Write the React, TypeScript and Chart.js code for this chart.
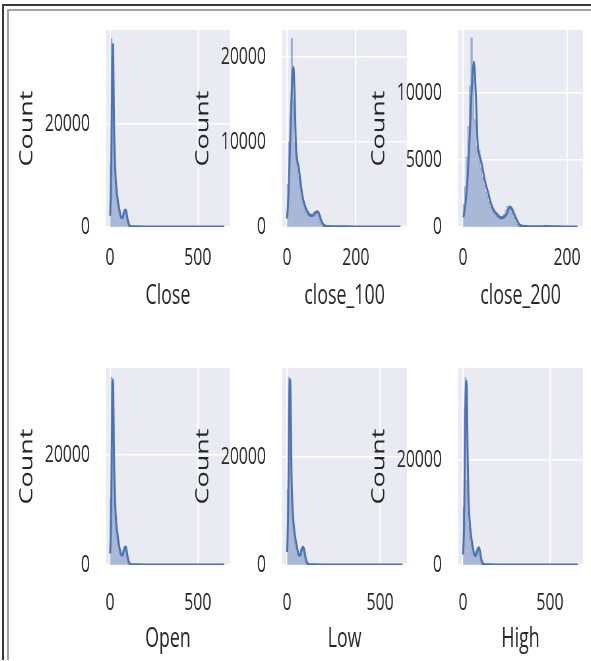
import React, { useEffect, useRef } from "react";
import { Chart, registerables } from "chart.js";

Chart.register(...registerables);

// ---------------- data ----------------
const closeHistX = [0, 6, 12, 18, 24, 30, 36, 42, 48, 54, 60, 66, 72, 78, 84, 90, 96, 102, 108, 114, 130, 200, 300, 450, 650];
const closeHistY = [2500, 12000, 36600, 24000, 14000, 9500, 6800, 5000, 3800, 2700, 2000, 1700, 2000, 2800, 3300, 3000, 1900, 800, 300, 100, 40, 15, 6, 2, 0];
const closeKdeX = [1, 6, 10, 14, 17, 20, 24, 30, 36, 42, 50, 58, 66, 72, 78, 84, 90, 96, 102, 108, 115, 125, 150, 200, 300, 400, 500, 600, 650];
const closeKdeY = [2200, 9000, 22000, 33000, 35500, 29000, 18000, 11000, 7800, 5800, 4000, 2600, 1800, 1800, 2500, 3200, 3300, 2400, 1200, 500, 150, 60, 30, 15, 8, 5, 3, 2, 1];

const c100HistX = [0, 4, 8, 12, 16, 20, 24, 28, 32, 36, 40, 44, 48, 52, 56, 60, 64, 68, 72, 76, 80, 84, 88, 92, 96, 100, 104, 108, 112, 140, 200, 260, 330];
const c100HistY = [2000, 5000, 10000, 13000, 22200, 15000, 10000, 8000, 7200, 6000, 4700, 3500, 2800, 2200, 1800, 1600, 1400, 1300, 1350, 1500, 1700, 1850, 1800, 1400, 900, 450, 200, 100, 50, 25, 12, 4, 0];
const c100KdeX = [0, 4, 8, 12, 16, 19, 22, 26, 30, 34, 40, 46, 52, 58, 64, 70, 76, 82, 88, 92, 96, 100, 106, 112, 120, 140, 170, 200, 250, 300, 330];
const c100KdeY = [1000, 3500, 8500, 14000, 18000, 18800, 15500, 9500, 7800, 7000, 5000, 3400, 2500, 1900, 1500, 1350, 1400, 1650, 1800, 1650, 1200, 700, 250, 100, 50, 30, 20, 12, 6, 3, 1];

const c200HistX = [0, 3, 6, 9, 12, 15, 18, 21, 24, 27, 30, 33, 36, 39, 42, 45, 48, 51, 54, 57, 60, 63, 66, 69, 72, 75, 78, 81, 84, 87, 90, 93, 96, 99, 102, 105, 108, 111, 120, 150, 170, 200, 222];
const c200HistY = [900, 1700, 3000, 5200, 7500, 10500, 14100, 11000, 8000, 6000, 5300, 5700, 4400, 3700, 3100, 2600, 2300, 1900, 1500, 1300, 1100, 950, 800, 700, 650, 700, 800, 950, 1250, 1550, 1500, 1300, 1050, 700, 400, 200, 100, 40, 25, 35, 15, 5, 0];
const c200KdeX = [1, 5, 9, 13, 17, 21, 25, 28, 32, 36, 42, 49, 55, 60, 65, 70, 74, 79, 84, 90, 94, 98, 103, 110, 120, 140, 160, 180, 200, 220];
const c200KdeY = [720, 1800, 3800, 6900, 10500, 12300, 9500, 6300, 5300, 4700, 3450, 2460, 1600, 1200, 970, 750, 680, 750, 970, 1490, 1350, 1000, 550, 120, 40, 25, 30, 15, 8, 3];

const openHistX = [0, 6, 12, 18, 24, 30, 36, 42, 48, 54, 60, 66, 72, 78, 84, 90, 96, 102, 108, 114, 130, 200, 300, 450, 650];
const openHistY = [2500, 12000, 34100, 23500, 13500, 9200, 6600, 4900, 3700, 2600, 1950, 1700, 2000, 2750, 3250, 2950, 1850, 780, 290, 100, 40, 15, 6, 2, 0];
const openKdeX = [1, 6, 10, 14, 17, 20, 24, 30, 36, 42, 50, 58, 66, 72, 78, 84, 90, 96, 102, 108, 115, 125, 150, 200, 300, 400, 500, 600, 650];
const openKdeY = [2100, 8500, 21000, 31500, 33600, 28000, 17500, 10800, 7600, 5700, 3900, 2550, 1800, 1800, 2450, 3150, 3250, 2350, 1150, 480, 150, 60, 30, 15, 8, 5, 3, 2, 1];

const lowHistX = [0, 6, 12, 18, 24, 30, 36, 42, 48, 54, 60, 66, 72, 78, 84, 90, 96, 102, 108, 114, 130, 200, 300, 450, 620];
const lowHistY = [2800, 14000, 34800, 22000, 13000, 9000, 6400, 4700, 3500, 2500, 1900, 1700, 2100, 3000, 3300, 2700, 1600, 650, 250, 90, 35, 14, 5, 2, 0];
const lowKdeX = [1, 6, 10, 14, 17, 20, 24, 30, 36, 42, 50, 58, 66, 72, 78, 84, 90, 96, 102, 108, 115, 125, 150, 200, 300, 400, 500, 600, 620];
const lowKdeY = [2400, 10000, 24000, 33000, 34300, 28000, 17000, 10500, 7500, 5600, 3900, 2500, 1800, 1900, 2700, 3300, 3100, 2100, 1000, 400, 120, 50, 25, 12, 6, 4, 3, 2, 1];

const highHistX = [0, 6, 12, 18, 24, 30, 36, 42, 48, 54, 60, 66, 72, 78, 84, 90, 96, 102, 108, 114, 130, 200, 300, 450, 660];
const highHistY = [2500, 11000, 30000, 35700, 16000, 10000, 7200, 5300, 4000, 2900, 2100, 1750, 1900, 2600, 3200, 3300, 2200, 1000, 350, 120, 45, 16, 7, 2, 0];
const highKdeX = [1, 6, 10, 14, 18, 22, 26, 32, 38, 44, 52, 60, 68, 74, 80, 86, 92, 98, 104, 110, 117, 127, 150, 200, 300, 400, 500, 600, 660];
const highKdeY = [2000, 8000, 20000, 31000, 35000, 33000, 22000, 12500, 8500, 6200, 4200, 2700, 1850, 1800, 2400, 3100, 3300, 2500, 1300, 550, 170, 65, 30, 15, 8, 5, 3, 2, 1];

// tick labels
const priceXTicks = [0, 500];
const closeMaXTicks = [0, 200];
const countTicks20k = [0, 20000];
const countTicks100 = [0, 10000, 20000];
const countTicks200 = [0, 5000, 10000];

// ---------------- layout / style ----------------
const SX = 0.66; // horizontal squeeze of the whole picture
const FONT = "'Open Sans', 'DejaVu Sans', sans-serif";
const TEXT = "#262626";
const BLUE = "#4C72B0";
const CANVAS_H = 300;
const AXIS_W = 100; // page px from canvas left to plot left
const X_AXIS_H = 93;

type PanelCfg = {
  label: string;
  left: number;
  top: number;
  plotW: number;
  xMin: number;
  xMax: number;
  yMax: number;
  xTicks: number[];
  yTicks: number[];
  xTickPad: number;
  titlePad: number;
  histX: number[];
  histY: number[];
  kdeX: number[];
  kdeY: number[];
};

const PANELS: PanelCfg[] = [
  { label: "Close", left: 6, top: 20, plotW: 124, xMin: -22.7, xMax: 681.8, yMax: 38300, xTicks: priceXTicks, yTicks: countTicks20k, xTickPad: 16.6, titlePad: 7.8, histX: closeHistX, histY: closeHistY, kdeX: closeKdeX, kdeY: closeKdeY },
  { label: "close_100", left: 182, top: 20, plotW: 125, xMin: -14.6, xMax: 349, yMax: 23200, xTicks: closeMaXTicks, yTicks: countTicks100, xTickPad: 16.6, titlePad: 7.8, histX: c100HistX, histY: c100HistY, kdeX: c100KdeX, kdeY: c100KdeY },
  { label: "close_200", left: 358, top: 20, plotW: 125, xMin: -9.6, xMax: 230.8, yMax: 14700, xTicks: closeMaXTicks, yTicks: countTicks200, xTickPad: 16.6, titlePad: 7.8, histX: c200HistX, histY: c200HistY, kdeX: c200KdeX, kdeY: c200KdeY },
  { label: "Open", left: 6, top: 358, plotW: 124, xMin: -22.7, xMax: 681.8, yMax: 35800, xTicks: priceXTicks, yTicks: countTicks20k, xTickPad: 24, titlePad: 2.8, histX: openHistX, histY: openHistY, kdeX: openKdeX, kdeY: openKdeY },
  { label: "Low", left: 182, top: 358, plotW: 125, xMin: -26.9, xMax: 645, yMax: 36500, xTicks: priceXTicks, yTicks: countTicks20k, xTickPad: 24, titlePad: 2.8, histX: lowHistX, histY: lowHistY, kdeX: lowKdeX, kdeY: lowKdeY },
  { label: "High", left: 358, top: 358, plotW: 125, xMin: -28.7, xMax: 690, yMax: 37500, xTicks: priceXTicks, yTicks: countTicks20k, xTickPad: 24, titlePad: 2.8, histX: highHistX, histY: highHistY, kdeX: highKdeX, kdeY: highKdeY },
];

const bgPlugin = {
  id: "plotBg",
  beforeDraw(chart: any) {
    const { ctx, chartArea: a } = chart;
    ctx.save();
    ctx.fillStyle = "#EAEAF2";
    ctx.fillRect(a.left, a.top, a.right - a.left, a.bottom - a.top);
    ctx.restore();
  },
};

function Panel({ p }: { p: PanelCfg }) {
  const ref = useRef<HTMLCanvasElement>(null);
  const W = Math.round((AXIS_W + p.plotW) / SX);

  useEffect(() => {
    const hist = p.histX.map((x, i) => ({ x, y: p.histY[i] }));
    const kde = p.kdeX.map((x, i) => ({ x, y: p.kdeY[i] }));
    const titleFont = { family: FONT, size: 27 };
    const tickFont = { family: FONT, size: 24 };
    const chart = new Chart(ref.current as HTMLCanvasElement, {
      type: "line",
      data: {
        datasets: [
          {
            data: kde as any,
            fill: false,
            borderColor: BLUE,
            borderWidth: 3,
            pointRadius: 0,
            cubicInterpolationMode: "monotone",
            order: 1,
          },
          {
            data: hist as any,
            stepped: "after",
            fill: "origin",
            backgroundColor: "rgba(76,114,176,0.42)",
            borderColor: "rgba(76,114,176,0.4)",
            borderWidth: 1,
            pointRadius: 0,
            order: 2,
          },
        ],
      },
      options: {
        responsive: false,
        animation: false,
        devicePixelRatio: 1,
        layout: { padding: { left: 0, right: 0, top: 10, bottom: 0 } },
        plugins: { legend: { display: false }, tooltip: { enabled: false } },
        scales: {
          x: {
            type: "linear",
            min: p.xMin,
            max: p.xMax,
            afterBuildTicks: (a: any) => {
              a.ticks = p.xTicks.map((v) => ({ value: v }));
            },
            ticks: {
              font: tickFont,
              color: TEXT,
              padding: p.xTickPad,
              maxRotation: 0,
              autoSkip: false,
              callback: (v: any) => String(v),
            },
            grid: { color: "#ffffff", lineWidth: 2, drawTicks: false },
            border: { display: false },
            title: { display: true, text: p.label, font: titleFont, color: TEXT, padding: { top: 0, bottom: p.titlePad } },
            afterFit: (a: any) => {
              a.height = X_AXIS_H;
              a.paddingLeft = 0;
              a.paddingRight = 0;
            },
          },
          y: {
            type: "linear",
            min: 0,
            max: p.yMax,
            afterBuildTicks: (a: any) => {
              a.ticks = p.yTicks.map((v) => ({ value: v }));
            },
            ticks: {
              font: tickFont,
              color: TEXT,
              padding: 16 / SX,
              callback: (v: any) => String(v),
            },
            grid: { color: "#ffffff", lineWidth: 1.6, drawTicks: false },
            border: { display: false },
            title: { display: true, text: "Count", font: titleFont, color: TEXT, padding: { top: 21 / SX - 16.2, bottom: 0 } },
            afterFit: (a: any) => {
              a.width = AXIS_W / SX;
              a.paddingTop = 0;
              a.paddingBottom = 0;
            },
          },
        },
      } as any,
      plugins: [bgPlugin],
    });
    return () => chart.destroy();
  }, []);

  return (
    <canvas
      ref={ref}
      width={W}
      height={CANVAS_H}
      style={{
        position: "absolute",
        left: p.left,
        top: p.top,
        width: W,
        height: CANVAS_H,
        transform: `scaleX(${SX})`,
        transformOrigin: "0 0",
      }}
    />
  );
}

export default function App() {
  return (
    <div style={{ position: "absolute", left: 0, top: 0, width: 591, height: 661, background: "#ffffff", overflow: "hidden" }}>
      <div style={{ position: "absolute", left: 2, top: 4, right: 0, height: 654, borderTop: "2px solid #3a3a3a", borderLeft: "2px solid #3a3a3a" }} />
      <div style={{ position: "absolute", left: 7, top: 9, right: 0, height: 649, borderTop: "2px solid #a3a3a3", borderLeft: "2px solid #a3a3a3" }} />
      {PANELS.map((p) => (
        <Panel key={p.label} p={p} />
      ))}
    </div>
  );
}
